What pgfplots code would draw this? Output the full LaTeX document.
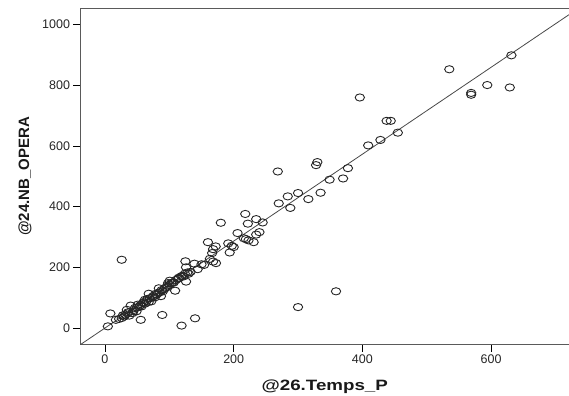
\documentclass[border=0pt]{standalone}
\usepackage{pgfplots}
\pgfplotsset{compat=1.18}
\usepackage{fontspec}
\setmainfont{Liberation Sans}
\definecolor{frame}{RGB}{90,90,90}
\begin{document}
\begin{tikzpicture}[x=1pt,y=1pt]
\useasboundingbox (-80.5,-51) rectangle (488.5,344.7);
\begin{axis}[
  at={(0,0)}, anchor=south west,
  scale only axis, width=488.5pt, height=336.7pt,
  xmin=-38, xmax=721, ymin=-55, ymax=1055,
  axis x line*=box, axis y line*=left,
  axis line style={frame, line width=0.9pt, -},
  xtick={0,200,400,600}, ytick={0,200,400,600,800,1000},
  tick pos=left, tick align=outside,
  major tick length=7pt,
  tick style={black, line width=0.8pt},
  /pgf/number format/assume math mode=true,
  /pgf/number format/1000 sep={},
  ticklabel style={font=\fontsize{12.5}{13}\selectfont, text=black!85},
  xlabel={\textbf{@26.Temps\_P}},
  ylabel={\textbf{@24.NB\_OPERA}},
  label style={font=\fontsize{15}{16}\selectfont, text=black!90},
  xlabel style={at={(axis description cs:0.5,-0.1366)}, anchor=base, xscale=1.25},
  ylabel style={at={(axis description cs:-0.1136,0.5)}, anchor=center},
  clip=true,
]
\addplot[frame!80!black, line width=0.8pt] coordinates {(-38,-54.5) (721,1033)};
\addplot[only marks, mark=o, mark size=3.6pt, mark options={xscale=1.3, line width=0.9pt, draw=black!85}] coordinates {
(4.5,5.5) (8.4,48) (26,225) (55.6,27) (89,43) (119,8) (140,32) (300,69) (359,121)
(535,853) (631.5,899) (569,775) (569,769) (594,801) (629,793) (396,760)
(437.6,683) (444,683) (455,644) (409,602) (428,620) (330,547) (328,537)
(377.5,527) (349,489) (370,493) (268.5,516) (270,411) (284,434) (300,445)
(316,425) (335,446) (288,396) (218,376) (235,359) (222,344) (245,348)
(240,316) (235,308) (231,283) (223,289) (219,293) (215.7,296) (206,313)
(180,347) (160,283) (172,269) (168,260) (166.5,247) (191.6,279) (197,271)
(200,267) (193.8,249) (168,219) (172.5,214) (154,208) (144,194) (139,212)
(125,220) (126,200) (130,179) (126,153) (109,123) (122,170) (114.6,164)
(107,150) (100.6,156) (97,140) (94,132) (83.7,131) (82.6,115) (87,105)
(73.6,101) (68,113) (68,86) (62,93) (59.5,82) (51,77) (46.6,66) (40,74)
(34,60) (31.5,44) (26,33) (17,27) (38,41) (42.7,49) (49,55) (56.7,71)
(62,80) (72,88) (77.5,101) (90,121) (103,148) (113,162) (118.5,170) (124,179)
(30,38) (35,48) (45,60) (50,68) (55,75) (60,85) (65,90) (70,98) (75,105)
(80,110) (85,118) (92,128) (96,135) (100,142) (105,150) (110,158) (115,166)
(120,172) (128,183) (22,30) (28,42) (36,52) (44,55) (53,70) (66,96) (78,112)
(88,125) (98,148) (133,185) (150,210) (163,228)
};
\end{axis}
\end{tikzpicture}
\end{document}
